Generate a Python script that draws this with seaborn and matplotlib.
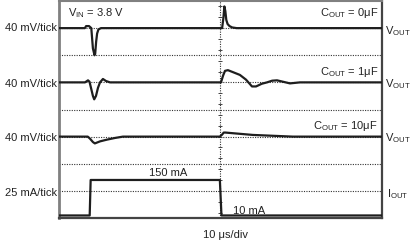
import numpy as np
import pandas as pd
import matplotlib
matplotlib.use("Agg")
import matplotlib.pyplot as plt
import seaborn as sns

# ---- data (time in µs, deviations in mV, current in mA) ----
t_v0 = [0, 8.0, 8.4, 9.3, 10.0, 10.5, 11.0, 11.2, 11.5, 11.8, 12.2, 13.0, 49.8, 50.5, 50.9,
        51.2, 51.5, 51.8, 52.2, 52.8, 53.6, 55.0, 100]
v0 = [0, 0, 3, 3, 0, -30, -40, -38, -20, -8, -2, 0, 0, 0, 15, 32, 25, 12, 6, 3, 1, 0, 0]

t_v1 = [0, 8.05, 8.98, 9.44, 9.9, 10.5, 10.9, 11.45, 12.07, 12.7, 13.6, 14.55, 15.8,
        50.15, 50.8, 51.4, 52.3, 53.9, 56.0, 57.9, 59.75, 61.0, 62.8, 64.4, 66.0, 67.5,
        69.3, 71.5, 74.6, 100]
v1 = [0, 0, 3, 1, -8, -20, -25, -20, -8, 0, 5, 2, 0,
      0, 10, 17, 18, 15, 11, 4, -6, -6, -2, 0, 2.5, 3, 1, -1.5, 0, 0]

t_v10 = [0, 8.9, 9.6, 10.5, 11.1, 12.7, 14.8, 17.3, 19.8, 49.8, 50.5, 51.0, 51.5, 53.9,
         60.0, 72.4, 100]
v10 = [0, 0, -3, -8, -10, -7, -4.5, -2, 0, 0, 3, 6, 6, 5, 2.5, 0, 0]

t_i = [0, 9.5, 9.8, 49.8, 50.3, 100]
i_out = [10, 10, 150, 150, 10, 10]

left_labels = ["40 mV/tick", "40 mV/tick", "40 mV/tick", "25 mA/tick"]
cap_labels = [r"C$_{\mathrm{OUT}}$ = 0μF", r"C$_{\mathrm{OUT}}$ = 1μF", r"C$_{\mathrm{OUT}}$ = 10μF"]

MV_PER_DIV = 40.0
MA_PER_DIV = 107.0

sns.set_style("white")
plt.rcParams["font.family"] = ["Liberation Sans", "DejaVu Sans"]
plt.rcParams["mathtext.fontset"] = "custom"
plt.rcParams["mathtext.rm"] = "Liberation Sans"
plt.rcParams["mathtext.it"] = "Liberation Sans"
plt.rcParams["mathtext.bf"] = "Liberation Sans"

fig = plt.figure(figsize=(4.14, 2.42), dpi=100)
ax = fig.add_axes([59 / 414, 1 - 218 / 242, (382 - 59) / 414, 217 / 242])

# grid
for yv in range(1, 8):
    ax.axhline(yv, color="#333333", lw=0.8, ls=(0, (1, 1.2)), zorder=1)
ax.axvline(50, color="#333333", lw=0.8, ls=(0, (1, 1.2)), zorder=1)
ax.plot(np.full(20, 50), np.arange(0.2, 8, 0.4), marker="_", ms=3, mew=0.7,
        color="#444444", ls="none", zorder=1)

trace_color = "#1e1e1e"
offsets = [7, 5, 3]
for tt, vv, off in zip([t_v0, t_v1, t_v10], [v0, v1, v10], offsets):
    df = pd.DataFrame({"t": tt, "y": off + np.array(vv) / MV_PER_DIV})
    sns.lineplot(data=df, x="t", y="y", ax=ax, color=trace_color, lw=1.6,
                 estimator=None, sort=False, zorder=3)
dfi = pd.DataFrame({"t": t_i, "y": np.array(i_out) / MA_PER_DIV})
sns.lineplot(data=dfi, x="t", y="y", ax=ax, color=trace_color, lw=1.6,
             estimator=None, sort=False, zorder=3)

ax.set_xlim(0, 100)
ax.set_ylim(0, 8)
ax.set_xticks([])
ax.set_yticks([])
ax.set_xlabel("")
ax.set_ylabel("")

ax.spines["left"].set_color("#808080")
ax.spines["left"].set_linewidth(2.0)
ax.spines["top"].set_color("#808080")
ax.spines["top"].set_linewidth(1.5)
for s in ["right", "bottom"]:
    ax.spines[s].set_color("#444444")
    ax.spines[s].set_linewidth(1.6)

fs = 8
# left labels
for lab, yb in zip(left_labels, [6.90, 4.84, 2.84, 0.807]):
    ax.text(-0.62, yb, lab, ha="right", va="baseline", fontsize=fs, color="#222222",
            clip_on=False)
# right labels
for yb in [6.79, 4.81, 2.83]:
    ax.text(100.9, yb, r"V$_{\mathrm{OUT}}$", ha="left", va="baseline", fontsize=fs,
            color="#222222", clip_on=False)
ax.text(101.5, 0.77, r"I$_{\mathrm{OUT}}$", ha="left", va="baseline", fontsize=fs,
        color="#222222", clip_on=False)
# cap labels
for lab, yb in zip(cap_labels, [7.45, 5.28, 3.27]):
    ax.text(98.8, yb, lab, ha="right", va="baseline", fontsize=fs, color="#222222")
ax.text(2.79, 7.45, r"V$_{\mathrm{IN}}$ = 3.8 V", ha="left", va="baseline", fontsize=fs,
        color="#222222")
ax.text(33.7, 1.55, "150 mA", ha="center", va="baseline", fontsize=fs, color="#222222")
ax.text(58.8, 0.147, "10 mA", ha="center", va="baseline", fontsize=fs, color="#222222")
ax.text(51.4, -0.73, "10 μs/div", ha="center", va="baseline", fontsize=fs,
        color="#222222", clip_on=False)

fig.savefig("out.png", dpi=100)
